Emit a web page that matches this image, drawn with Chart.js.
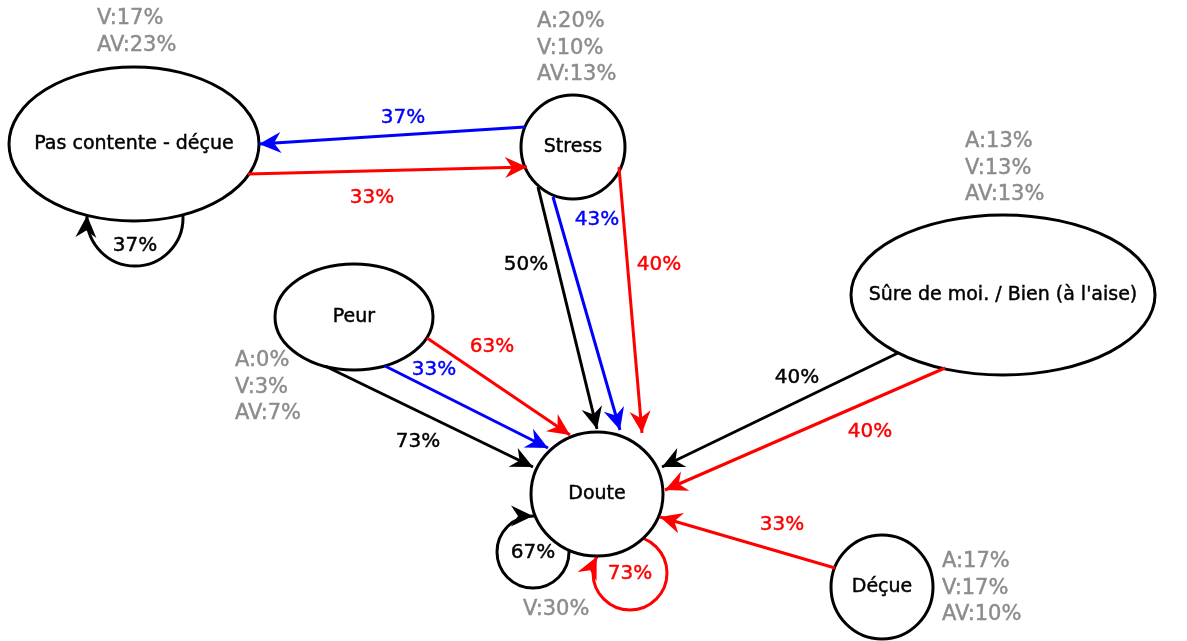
<!DOCTYPE html>
<html>
<head>
<meta charset="utf-8">
<script src="https://cdn.jsdelivr.net/npm/chart.js@4"></script>
<style>
  html, body { margin: 0; padding: 0; background: #fff; }
  #graphe { display: block; }
</style>
</head>
<body>
<canvas id="graphe" width="1187" height="641"></canvas>
<script>
// Etats (noeuds) du diagramme, en coordonnees du plan
const nodeNames = ['Pas contente - déçue', 'Stress', 'Peur', 'Doute', "Sûre de moi. / Bien (à l'aise)", 'Déçue'];
const nodeX  = [134, 573, 354, 597, 1003, 882];
const nodeY  = [144, 147, 317, 494, 295, 587];
const nodeRx = [125, 52, 79, 66, 152, 51];
const nodeRy = [77, 52, 53, 62, 80, 52];

// Pourcentages A / V / AV par etat (null = pas affiche)
const statA  = [null, 20, 0, null, 13, 17];
const statV  = [17, 10, 3, 30, 13, 17];
const statAV = [23, 13, 7, null, 13, 10];
const statX  = [97, 537, 235, 523, 965, 942];
const statY  = [19, 22, 361, 610, 142, 562];

// Transitions entre etats
const edgeSeries = ['bleu', 'rouge', 'noir', 'bleu', 'rouge', 'rouge', 'bleu', 'noir', 'noir', 'rouge', 'rouge'];
const edgeFrom   = [1, 0, 1, 1, 1, 2, 2, 2, 4, 4, 5];
const edgeTo     = [0, 1, 3, 3, 3, 3, 3, 3, 3, 3, 3];
const edgePct    = [37, 33, 50, 43, 40, 63, 33, 73, 40, 40, 33];
const edgeStart  = [[525, 127], [248, 174], [538, 187], [553, 197], [619, 167], [427, 338], [385, 366], [325, 366], [898, 353], [945, 368], [835, 568]];
const edgeEnd    = [[259, 144], [527, 167], [597, 429], [620, 430], [642, 433], [570, 435], [548, 448], [533, 467], [662, 467], [665, 490], [660, 517]];
const edgeLabel  = [[403, 118], [372, 198], [526, 265], [597, 220], [659, 265], [492, 347], [434, 370], [418, 442], [797, 378], [870, 432], [782, 525]];

// Boucles (un etat vers lui-meme)
const loopSeries = ['noir', 'noir', 'rouge'];
const loopNode   = [0, 3, 3];
const loopPct    = [37, 67, 73];
const loopCenter = [[135, 218], [533, 552], [630, 573]];
const loopR      = [48, 36, 37];
const loopArrowDeg = [183, 270, 206];
const loopLabel  = [[135, 246], [533, 553], [630, 574]];

const COLORS = { noir: '#000000', rouge: '#ff0000', bleu: '#0000ff' };
const GRIS = '#8c8c8c';
const FONT = '"DejaVu Sans", sans-serif';

function arrowHead(ctx, tx, ty, ang, color) {
    const len = 22, half = 10.5, notch = 7;
    const ca = Math.cos(ang), sa = Math.sin(ang);
    const pt = (b, s) => [tx - ca * b - sa * s, ty - sa * b + ca * s];
    const l = pt(len, half), r = pt(len, -half), n = pt(len - notch, 0);
    ctx.beginPath();
    ctx.moveTo(tx, ty);
    ctx.lineTo(l[0], l[1]);
    ctx.lineTo(n[0], n[1]);
    ctx.lineTo(r[0], r[1]);
    ctx.closePath();
    ctx.fillStyle = color;
    ctx.fill();
}

// texte un peu plus gras, comme dans l'image d'origine
function texte(ctx, txt, px, py, color) {
    ctx.fillStyle = color;
    ctx.strokeStyle = color;
    ctx.lineWidth = 0.45;
    ctx.fillText(txt, px, py);
    ctx.strokeText(txt, px, py);
}

const diagramPlugin = {
    id: 'diagramme',
    beforeDatasetsDraw(chart) {
        const { ctx, scales: { x, y } } = chart;
        ctx.save();
        // boucles
        loopCenter.forEach((c, i) => {
            const cx = x.getPixelForValue(c[0]), cy = y.getPixelForValue(c[1]);
            const r = x.getPixelForValue(c[0] + loopR[i]) - cx;
            ctx.beginPath();
            ctx.arc(cx, cy, r, 0, Math.PI * 2);
            ctx.lineWidth = 3;
            ctx.strokeStyle = COLORS[loopSeries[i]];
            ctx.stroke();
        });
        // etats
        nodeNames.forEach((name, i) => {
            const cx = x.getPixelForValue(nodeX[i]), cy = y.getPixelForValue(nodeY[i]);
            const rx = x.getPixelForValue(nodeX[i] + nodeRx[i]) - cx;
            const ry = y.getPixelForValue(nodeY[i] + nodeRy[i]) - cy;
            ctx.beginPath();
            ctx.ellipse(cx, cy, rx, Math.abs(ry), 0, 0, Math.PI * 2);
            ctx.fillStyle = '#fff';
            ctx.fill();
            ctx.lineWidth = 3;
            ctx.strokeStyle = '#000';
            ctx.stroke();
        });
        ctx.restore();
    },
    afterDatasetsDraw(chart) {
        const { ctx, scales: { x, y } } = chart;
        ctx.save();
        // fleches des transitions
        edgeEnd.forEach((e, i) => {
            const x0 = x.getPixelForValue(edgeStart[i][0]), y0 = y.getPixelForValue(edgeStart[i][1]);
            const x1 = x.getPixelForValue(e[0]), y1 = y.getPixelForValue(e[1]);
            arrowHead(ctx, x1, y1, Math.atan2(y1 - y0, x1 - x0), COLORS[edgeSeries[i]]);
        });
        // fleches des boucles
        loopCenter.forEach((c, i) => {
            const cx = x.getPixelForValue(c[0]), cy = y.getPixelForValue(c[1]);
            const r = x.getPixelForValue(c[0] + loopR[i]) - cx;
            const t = loopArrowDeg[i] * Math.PI / 180;
            const tx = cx + r * Math.cos(t), ty = cy + r * Math.sin(t);
            arrowHead(ctx, tx, ty, Math.atan2(Math.cos(t), -Math.sin(t)), COLORS[loopSeries[i]]);
        });
        ctx.textAlign = 'center';
        ctx.textBaseline = 'middle';
        // noms des etats
        ctx.font = '19px ' + FONT;
        nodeNames.forEach((name, i) => {
            texte(ctx, name, x.getPixelForValue(nodeX[i]), y.getPixelForValue(nodeY[i]), '#000');
        });
        // pourcentages des transitions
        ctx.font = '20px ' + FONT;
        edgeLabel.forEach((p, i) => {
            texte(ctx, edgePct[i] + '%', x.getPixelForValue(p[0]), y.getPixelForValue(p[1]), COLORS[edgeSeries[i]]);
        });
        loopLabel.forEach((p, i) => {
            texte(ctx, loopPct[i] + '%', x.getPixelForValue(p[0]), y.getPixelForValue(p[1]), COLORS[loopSeries[i]]);
        });
        // statistiques A / V / AV
        ctx.font = '21px ' + FONT;
        ctx.textAlign = 'left';
        nodeNames.forEach((name, i) => {
            const lines = [];
            if (statA[i] !== null) lines.push('A:' + statA[i] + '%');
            if (statV[i] !== null) lines.push('V:' + statV[i] + '%');
            if (statAV[i] !== null) lines.push('AV:' + statAV[i] + '%');
            lines.forEach((txt, k) => {
                texte(ctx, txt, x.getPixelForValue(statX[i]), y.getPixelForValue(statY[i] + k * 26.5), GRIS);
            });
        });
        ctx.restore();
    }
};

const datasets = edgeStart.map((s, i) => ({
    label: nodeNames[edgeFrom[i]] + ' → ' + nodeNames[edgeTo[i]],
    data: [{ x: s[0], y: s[1] }, { x: edgeEnd[i][0], y: edgeEnd[i][1] }],
    showLine: true,
    borderColor: COLORS[edgeSeries[i]],
    borderWidth: 3,
    pointRadius: 0,
    tension: 0
}));

new Chart(document.getElementById('graphe'), {
    type: 'scatter',
    data: { datasets },
    options: {
        responsive: false,
        animation: false,
        devicePixelRatio: 1,
        layout: { padding: 0 },
        plugins: { legend: { display: false }, tooltip: { enabled: false } },
        scales: {
            x: { type: 'linear', min: 0, max: 1187, display: false },
            y: { type: 'linear', min: 0, max: 641, reverse: true, display: false }
        }
    },
    plugins: [diagramPlugin]
});
</script>
</body>
</html>
